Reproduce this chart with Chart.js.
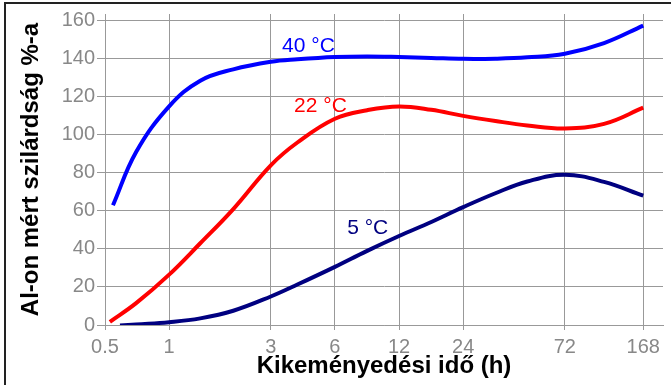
<!DOCTYPE html>
<html>
<head>
<meta charset="utf-8">
<script src="https://cdn.jsdelivr.net/npm/chart.js@4"></script>
<style>
body { margin: 0; background: #fff; }
#wrap { position: relative; width: 671px; height: 385px; }
#frame { position: absolute; left: 4px; top: 2px; right: 0; bottom: 0; border-top: 2px solid #222; border-left: 2px solid #222; pointer-events: none; }
canvas { position: absolute; left: 0; top: 0; }
</style>
</head>
<body>
<div id="wrap">
<canvas id="myChart" width="671" height="385"></canvas>
<div id="frame"></div>
</div>
<script>
const xTicks = [0.5, 1, 3, 6, 12, 24, 72, 168];
const yTicks = [0, 20, 40, 60, 80, 100, 120, 140, 160];

// 40 °C
const hot_t = [0.545, 0.7, 1, 1.4, 2, 3, 4, 6, 8.5, 12, 17, 24, 34, 48, 72, 110, 168];
const hot_v = [63, 91, 115, 128.5, 134.5, 138.5, 139.8, 141, 141.3, 141, 140.5, 140, 140.1, 140.8, 142.7, 148.3, 157.5];

// 22 °C
const room_t = [0.527, 0.7, 1, 1.4, 2, 3, 4, 6, 8.5, 12, 17, 24, 34, 48, 72, 110, 168];
const room_v = [1.7, 11.5, 26.5, 43, 61, 84, 96, 108.5, 113, 115, 113.2, 110, 107.3, 105, 103.4, 105.8, 114.3];

// 5 °C
const cold_t = [0.588, 0.7, 1, 1.4, 2, 3, 4, 6, 8.5, 12, 17, 24, 34, 48, 72, 110, 168];
const cold_v = [-0.3, 0.3, 1.5, 3.5, 7.5, 15, 21.3, 30.6, 39, 46.8, 54.2, 62, 69.3, 75.5, 79, 75.3, 68];

const curveLabels = [
	{text: '40 °C', t: 3.39, v: 143.4, color: '#0000ff'},
	{text: '22 °C', t: 3.86, v: 112.2, color: '#ff0000'},
	{text: '5 °C', t: 6.85, v: 47.8, color: '#000080'}
];

const pts = (ts, vs) => ts.map((t, i) => ({x: t, y: vs[i]}));
const FONT = '"Liberation Sans", Arial, sans-serif';

const labelPlugin = {
	id: 'curveLabels',
	afterDatasetsDraw(chart) {
		const ctx = chart.ctx;
		const xs = chart.scales.x, ys = chart.scales.y;
		ctx.save();
		ctx.font = '21px ' + FONT;
		ctx.textAlign = 'left';
		ctx.textBaseline = 'alphabetic';
		curveLabels.forEach(l => {
			ctx.fillStyle = l.color;
			ctx.fillText(l.text, xs.getPixelForValue(l.t), ys.getPixelForValue(l.v));
		});
		ctx.restore();
	}
};

const line = (data, color) => ({
	data: data,
	borderColor: color,
	borderWidth: 4,
	pointRadius: 0,
	fill: false,
	tension: 0.4
});

new Chart(document.getElementById('myChart').getContext('2d'), {
	type: 'line',
	data: {
		datasets: [
			line(pts(hot_t, hot_v), '#0000ff'),
			line(pts(room_t, room_v), '#ff0000'),
			line(pts(cold_t, cold_v), '#000080')
		]
	},
	options: {
		responsive: false,
		animation: false,
		layout: {padding: {left: 0, right: 8, top: 10, bottom: 0}},
		plugins: {legend: {display: false}, tooltip: {enabled: false}},
		scales: {
			x: {
				type: 'logarithmic',
				min: 0.5,
				max: 208,
				afterBuildTicks: s => { s.ticks = xTicks.map(v => ({value: v})); },
				afterFit: s => { s.height = 60; },
				grid: {color: '#999', lineWidth: 1, tickLength: 5},
				border: {color: '#999'},
				ticks: {
					autoSkip: false, maxRotation: 0, padding: 5,
					color: '#888', font: {family: FONT, size: 20},
					callback: v => String(v)
				},
				title: {
					display: true, text: 'Kikeményedési idő (h)',
					color: '#000', font: {family: FONT, size: 24, weight: 'bold'},
					padding: {top: 0, bottom: 4}
				}
			},
			y: {
				min: 0,
				max: 163.6,
				afterBuildTicks: s => { s.ticks = yTicks.map(v => ({value: v})); },
				afterFit: s => { s.width = 105; },
				grid: {color: '#999', lineWidth: 1, tickLength: 8},
				border: {color: '#999'},
				ticks: {padding: 2, color: '#888', font: {family: FONT, size: 20}},
				title: {
					display: true, text: 'Al-on mért szilárdság %-a',
					color: '#000', font: {family: FONT, size: 24, weight: 'bold'},
					padding: {top: 17, bottom: 0}
				}
			}
		}
	},
	plugins: [labelPlugin]
});
</script>
</body>
</html>
